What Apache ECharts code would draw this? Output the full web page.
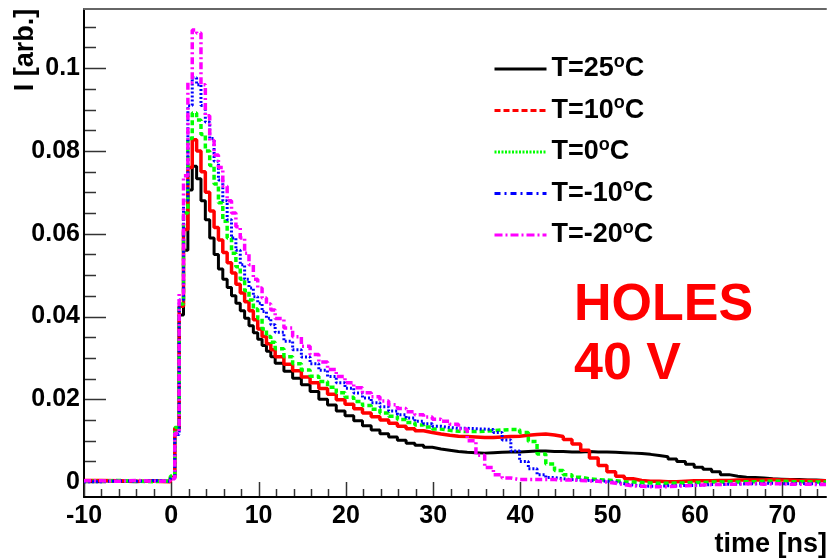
<!DOCTYPE html>
<html><head><meta charset="utf-8">
<script src="https://cdn.jsdelivr.net/npm/echarts@6/dist/echarts.min.js"></script>
<style>html,body{margin:0;padding:0;background:#fff}#c{width:828px;height:560px}</style>
</head><body><div id="c"></div>
<script>
// bin left edges (ns)
const timeEdges = [-10,-8,-6,-4,-2,
-0.1,0.4,0.9,1.4,1.9,2.4,2.9,3.4,3.9,4.4,4.9,5.4,5.9,6.4,6.9,7.4,7.9,8.4,8.9,9.4,9.9,10.4,10.9,11.4,11.9,
12.9,13.9,14.9,15.9,16.9,17.9,18.9,19.9,20.9,21.9,22.9,23.9,24.9,25.9,26.9,27.9,28.9,29.9,30.9,31.9,
32.9,33.9,34.9,35.9,36.9,37.9,38.9,39.9,40.9,41.9,42.9,43.9,44.9,45.9,46.9,47.9,48.9,49.9,50.9,51.9,
52.9,53.9,54.9,55.9,56.9,57.9,58.9,59.9,60.9,61.9,62.9,63.9,64.9,65.9,66.9,67.9,68.9,69.9,70.9,71.9,
72.9,73.9,74.9,75];

const seriesNames = ['T=25°C','T=10°C','T=0°C','T=-10°C','T=-20°C'];

const valuesT25 = [0.0003,0.0002,0.0001,0.0003,0.0002,
0.0010,0.0128,0.0404,0.0560,0.0706,0.0763,0.0733,0.0680,0.0634,0.0590,0.0550,0.0515,0.0490,0.0470,0.0450,0.0432,0.0414,0.0396,0.0378,0.0361,0.0345,0.0330,0.0316,0.0303,
0.0287,0.0268,0.0251,0.0235,0.0219,0.0200,0.0186,0.0172,0.0160,0.0148,
0.0136,0.0126,0.0117,0.0109,0.0101,0.0094,0.0089,0.0084,0.0080,0.0077,
0.0074,0.0072,0.0071,0.0070,0.0071,0.0072,0.0073,0.0073,0.0074,0.0075,
0.0075,0.0074,0.0074,0.0073,0.0073,0.0074,0.0073,0.0073,0.0072,0.0071,
0.0070,0.0069,0.0067,0.0064,0.0061,0.0056,0.0050,0.0043,0.0036,0.0031,
0.0025,0.0018,0.0014,0.0012,0.0011,0.0010,0.0008,0.0007,0.0006,0.0006,
0.0005,0.0005,0.0004,
0.0004,0.0004];

const valuesT10 = [0.0004,0.0003,0.0002,0.0002,0.0001,
0.0012,0.0130,0.0425,0.0610,0.0760,0.0827,0.0800,0.0750,0.0700,0.0655,0.0615,0.0585,0.0555,0.0530,0.0505,0.0478,0.0457,0.0436,0.0414,0.0392,0.0370,0.0352,0.0334,0.0320,
0.0303,0.0285,0.0269,0.0254,0.0240,0.0226,0.0212,0.0199,0.0188,0.0177,
0.0167,0.0158,0.0150,0.0142,0.0135,0.0129,0.0124,0.0120,0.0116,0.0113,
0.0111,0.0110,0.0109,0.0108,0.0108,0.0109,0.0110,0.0111,0.0113,0.0115,
0.0116,0.0114,0.0110,0.0103,0.0092,0.0077,0.0058,0.0040,0.0025,0.0014,
0.0008,0.0004,0.0002,0.0002,0.0001,0.0001,0.0002,0.0003,0.0003,0.0003,
0.0004,0.0004,0.0005,0.0005,0.0005,0.0005,0.0006,0.0005,0.0005,0.0004,
0.0004,0.0003,0.0003,
0.0003,0.0003];

const valuesT0 = [0.0002,0.0004,0.0002,0.0001,0.0003,
0.0015,0.0132,0.0430,0.0650,0.0830,0.0892,0.0875,0.0840,0.0800,0.0765,0.0720,0.0675,0.0630,0.0590,0.0553,0.0520,0.0490,0.0462,0.0440,0.0418,0.0395,0.0370,0.0352,0.0338,
0.0322,0.0303,0.0286,0.0271,0.0256,0.0243,0.0229,0.0216,0.0205,0.0195,
0.0185,0.0176,0.0167,0.0159,0.0151,0.0144,0.0138,0.0133,0.0128,0.0125,
0.0123,0.0122,0.0122,0.0123,0.0124,0.0126,0.0127,0.0127,0.0120,0.0098,
0.0068,0.0044,0.0028,0.0018,0.0012,0.0008,0.0006,0.0005,0.0003,0.0001,
0.0000,-0.0001,-0.0002,-0.0003,-0.0003,-0.0002,-0.0002,-0.0001,-0.0001,0.0000,
0.0000,0.0001,0.0000,0.0001,0.0001,0.0002,0.0002,0.0002,0.0001,0.0001,
0.0001,0.0000,0.0000,
0.0000,0.0000];

const valuesTm10 = [0.0001,0.0003,0.0002,0.0004,0.0002,
0.0010,0.0115,0.0440,0.0680,0.0910,0.0977,0.0960,0.0910,0.0870,0.0830,0.0775,0.0730,0.0680,0.0634,0.0590,0.0560,0.0525,0.0490,0.0469,0.0448,0.0432,0.0412,0.0396,0.0380,
0.0362,0.0340,0.0320,0.0302,0.0286,0.0270,0.0255,0.0240,0.0227,0.0215,
0.0203,0.0192,0.0182,0.0172,0.0163,0.0155,0.0147,0.0141,0.0135,0.0132,
0.0130,0.0130,0.0129,0.0128,0.0127,0.0120,0.0102,0.0075,0.0050,0.0032,
0.0018,0.0011,0.0008,0.0006,0.0005,0.0004,0.0003,0.0002,0.0000,-0.0004,
-0.0007,-0.0009,-0.0010,-0.0010,-0.0009,-0.0009,-0.0008,-0.0008,-0.0007,-0.0006,
-0.0006,-0.0005,-0.0005,-0.0004,-0.0004,-0.0003,-0.0003,-0.0004,-0.0004,-0.0003,
-0.0004,-0.0004,-0.0005,
-0.0005,-0.0005];

const valuesTm20 = [0.0003,0.0002,0.0004,0.0002,0.0003,
0.0008,0.0118,0.0455,0.0740,0.0965,0.1092,0.1085,0.0960,0.0885,0.0825,0.0790,0.0760,0.0715,0.0680,0.0650,0.0617,0.0590,0.0553,0.0525,0.0490,0.0469,0.0445,0.0430,0.0416,
0.0395,0.0372,0.0351,0.0328,0.0308,0.0290,0.0272,0.0255,0.0240,0.0228,
0.0216,0.0206,0.0196,0.0187,0.0178,0.0170,0.0163,0.0157,0.0152,0.0147,
0.0140,0.0128,0.0100,0.0065,0.0035,0.0018,0.0010,0.0006,0.0006,0.0006,
0.0006,0.0006,0.0005,0.0005,0.0004,0.0003,0.0002,0.0000,-0.0003,-0.0006,
-0.0009,-0.0010,-0.0011,-0.0011,-0.0011,-0.0010,-0.0009,-0.0008,-0.0007,-0.0006,
-0.0006,-0.0005,-0.0005,-0.0004,-0.0004,-0.0005,-0.0004,-0.0004,-0.0005,-0.0005,
-0.0005,-0.0006,-0.0006,
-0.0006,-0.0006];

// axis tick values
const xMajorTicks = [-10,0,10,20,30,40,50,60,70];
const xMinorTicks = [-8,-6,-4,-2,2,4,6,8,12,14,16,18,22,24,26,28,32,34,36,38,42,44,46,48,52,54,56,58,62,64,66,68,72,74];
const yMajorTicks = [0,0.02,0.04,0.06,0.08,0.1];
const yMinorTicks = [0.005,0.01,0.015,0.025,0.03,0.035,0.045,0.05,0.055,0.065,0.07,0.075,0.085,0.09,0.095,0.105,0.11];

const annotationLines = ['HOLES','40 V'];
const xTitle = 'time [ns]';
const yTitle = 'I [arb.]';

const X_MIN = -10, X_MAX = 75, Y_MIN = -0.0036, Y_MAX = 0.1143;
const allValues = [valuesT25, valuesT10, valuesT0, valuesTm10, valuesTm20];
const colors = ['#000000','#ff0000','#00ff00','#0000ff','#ff00ff'];
const plotDash = ['solid','solid',[5,3],[2,2],[7,3,2,3]];
const plotWidth = [3,3.5,3.5,3,3.5];
const legendDash = ['solid',[6,3],[2,1.5],[6,4,2,4],[8,3,2,3]];
const FONT = '"Liberation Sans", Arial, Helvetica, sans-serif';

// tick items: [value, onYAxis(0/1), major(0/1)]
const tickItems = []
  .concat(xMajorTicks.map(v=>[v,0,1]))
  .concat(xMinorTicks.map(v=>[v,0,0]))
  .concat(yMajorTicks.map(v=>[v,1,1]))
  .concat(yMinorTicks.map(v=>[v,1,0]));

function renderTick(params, api){
  const v = api.value(0), onY = api.value(1), major = api.value(2);
  if (!onY) {
    const p = api.coord([v, Y_MIN]);
    const len = major ? 14 : 7;
    return {type:'line', shape:{x1:Math.round(p[0])+0.5, y1:p[1]-1, x2:Math.round(p[0])+0.5, y2:p[1]-1-len}, style:{stroke:'#333', lineWidth:1.5}};
  }
  const p = api.coord([X_MIN, v]);
  const len = major ? 21 : 11;
  return {type:'line', shape:{x1:p[0]+1, y1:Math.round(p[1])+0.5, x2:p[0]+1+len, y2:Math.round(p[1])+0.5}, style:{stroke:'#333', lineWidth:1.5}};
}

const chart = echarts.init(document.getElementById('c'));

const option = {
  backgroundColor:'#ffffff',
  animation:false,
  grid:{left:84, right:2, top:9, bottom:63},
  xAxis:[{
    type:'value', min:X_MIN, max:X_MAX, interval:10, position:'bottom',
    axisLine:{show:true, onZero:false, lineStyle:{color:'#000', width:2}},
    axisTick:{show:false}, minorTick:{show:false},
    axisLabel:{show:true, fontFamily:FONT, fontWeight:'bold', fontSize:25, color:'#000', margin:7, showMaxLabel:false},
    splitLine:{show:false}
  },{
    type:'value', min:X_MIN, max:X_MAX, position:'top',
    axisLine:{show:true, onZero:false, lineStyle:{color:'#666', width:2}},
    axisTick:{show:false}, axisLabel:{show:false}, splitLine:{show:false}
  }],
  yAxis:{
    type:'value', min:Y_MIN, max:Y_MAX, splitNumber:6, minInterval:0.02, maxInterval:0.02,
    axisLine:{show:true, onZero:false, lineStyle:{color:'#000', width:2}},
    axisTick:{show:false}, minorTick:{show:false},
    axisLabel:{show:true, fontFamily:FONT, fontWeight:'bold', fontSize:25, color:'#000', margin:4, showMinLabel:false, showMaxLabel:false},
    splitLine:{show:false}
  },
  legend:{
    orient:'vertical', left:493, top:53, padding:0, itemWidth:52, itemHeight:14, itemGap:9.5,
    textStyle:{fontFamily:FONT, fontWeight:'bold', fontSize:27, color:'#000', lineHeight:30,
      rich:{o:{fontFamily:FONT, fontWeight:'bold', fontSize:18, color:'#000', lineHeight:30, padding:[0,0,14,0]}}},
    formatter:function(n){ return n.replace('°','{o|o}'); },
    data:seriesNames.map((n,i)=>({name:n, lineStyle:{color:colors[i], width:3, type:legendDash[i]}, itemStyle:{opacity:0}}))
  },
  graphic:[
    {type:'text', x:26, y:50, rotation:Math.PI/2, style:{text:yTitle, fill:'#000', font:'bold 27px '+FONT, align:'center', verticalAlign:'middle'}},
    {type:'text', x:827, y:545, style:{text:xTitle, fill:'#000', font:'bold 27px '+FONT, align:'right', verticalAlign:'middle'}},
    {type:'text', x:574, y:306, style:{text:annotationLines[0], fill:'#ff0000', font:'bold 52px '+FONT, align:'left', verticalAlign:'middle', shadowColor:'rgba(0,0,0,0.35)', shadowBlur:2, shadowOffsetX:2, shadowOffsetY:2}},
    {type:'text', x:574, y:365, style:{text:annotationLines[1], fill:'#ff0000', font:'bold 52px '+FONT, align:'left', verticalAlign:'middle', shadowColor:'rgba(0,0,0,0.35)', shadowBlur:2, shadowOffsetX:2, shadowOffsetY:2}}
  ],
  series:[{
    type:'custom', name:'axis ticks', renderItem:renderTick, data:tickItems,
    encode:{x:0, y:1}, clip:false, silent:true, z:1
  }].concat(seriesNames.map((n,i)=>({
    name:n, type:'line', step:'end', symbol:'none',
    data:timeEdges.map((t,j)=>[t, allValues[i][j]]),
    lineStyle:{color:colors[i], width:plotWidth[i], type:plotDash[i]},
    itemStyle:{color:colors[i]}
  })))
};
chart.setOption(option);
</script>
</body></html>
